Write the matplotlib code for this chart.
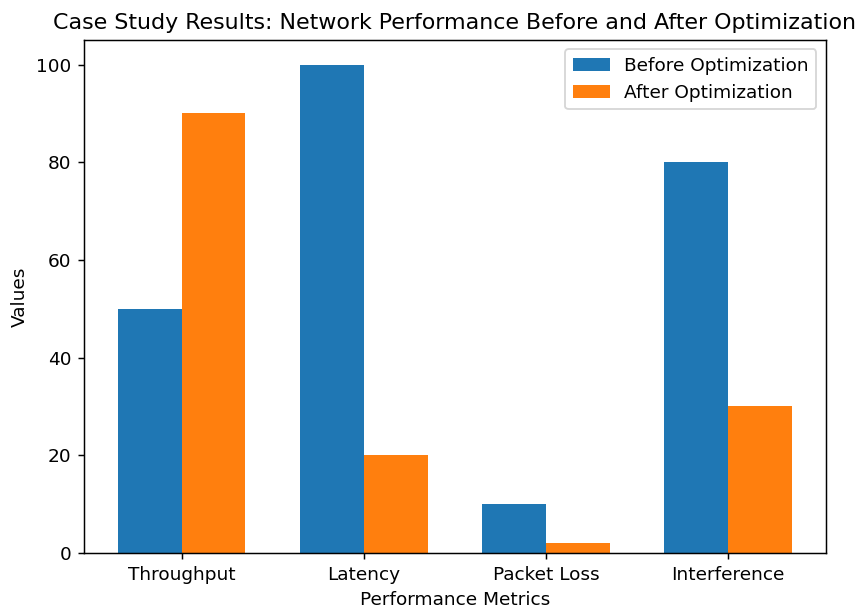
import numpy as np
import matplotlib.pyplot as plt

metrics = ['Throughput', 'Latency', 'Packet Loss', 'Interference']
before = [50, 100, 10, 80]
after = [90, 20, 2, 30]

x = np.arange(len(metrics))
width = 0.35

dpi = 133
fig, ax = plt.subplots(figsize=(860 / dpi, 609 / dpi), dpi=dpi)
fig.subplots_adjust(left=0.098, right=0.96, top=0.934, bottom=0.092)

ax.bar(x - width / 2, before, width, label='Before Optimization')
ax.bar(x + width / 2, after, width, label='After Optimization')

ax.set_xlabel('Performance Metrics')
ax.set_ylabel('Values')
ax.set_title('Case Study Results: Network Performance Before and After Optimization')
ax.set_xticks(x)
ax.set_xticklabels(metrics)
ax.legend()

plt.savefig('out.png', dpi=dpi)
